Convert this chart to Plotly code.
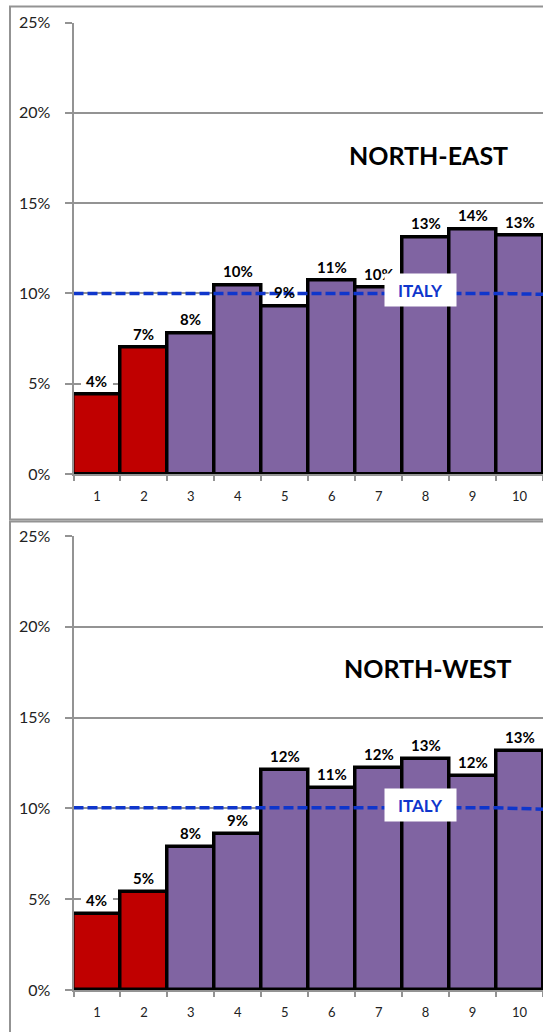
import plotly.graph_objects as go

W, H = 543, 1032

# Deciles 1..10
deciles = [1, 2, 3, 4, 5, 6, 7, 8, 9, 10]
decile_labels = ["1", "2", "3", "4", "5", "6", "7", "8", "9", "10"]

# Share per decile, by area
north_east = [0.044, 0.070, 0.078, 0.1045, 0.093, 0.107, 0.103, 0.131, 0.1354, 0.132]
north_west = [0.042, 0.054, 0.079, 0.086, 0.121, 0.111, 0.122, 0.127, 0.118, 0.1315]

# National reference level, sampled at the decile boundaries 0.5 .. 10.5
italy_x = [0.5, 1.5, 2.5, 3.5, 4.5, 5.5, 6.5, 7.5, 8.5, 9.5, 10.5]
italy_ne = [0.100, 0.100, 0.100, 0.100, 0.100, 0.100, 0.100, 0.100, 0.100, 0.100, 0.0995]
italy_nw = [0.1003, 0.1003, 0.1003, 0.1003, 0.1003, 0.1003, 0.1003, 0.1003, 0.1003, 0.1003, 0.0996]

# Which deciles are highlighted in red
highlight = [True, True, False, False, False, False, False, False, False, False]

RED = "#C00000"
PURPLE = "#8064A2"
BLUE = "#0F36CC"
GRID = "#939393"
FONT = "Lato"

panels = [
    dict(name="NORTH-EAST", values=north_east, italy=italy_ne, xa="x", ya="y",
         top=22.5, bottom=474.0, frame=(6.5, 519.5), title_y=155, italy_y=290),
    dict(name="NORTH-WEST", values=north_west, italy=italy_nw, xa="x2", ya="y2",
         top=536.0, bottom=990.0, frame=(521.5, 1100), title_y=668, italy_y=805),
]

fig = go.Figure()
shapes = []
annotations = []
colors = [RED if h else PURPLE for h in highlight]

def py(p):
    return 1 - p / H

for i, p in enumerate(panels):
    fig.add_trace(go.Bar(
        x=deciles, y=p["values"], xaxis=p["xa"], yaxis=p["ya"],
        width=1.0, marker=dict(color=colors, line=dict(color="black", width=3.5)),
        showlegend=False, hoverinfo="skip",
    ))
    fig.add_trace(go.Scatter(
        x=italy_x, y=p["italy"], xaxis=p["xa"], yaxis=p["ya"], mode="lines",
        line=dict(color=BLUE, width=3.5, dash="10px,4px"),
        showlegend=False, hoverinfo="skip",
    ))

    sfx = "" if i == 0 else "2"
    ax = dict(
        domain=[73.5 / W, 1.0], range=[0.5, 10.5], automargin=False,
        tickmode="array", tickvals=deciles, ticktext=decile_labels, ticks="",
        ticklabelstandoff=9,
        tickfont=dict(family=FONT, size=13, color="#222"),
        showgrid=False, zeroline=False, showline=True, linecolor=GRID, linewidth=2,
        minor=dict(tick0=0.5, dtick=1, ticks="outside", ticklen=5, tickcolor=GRID,
                   tickwidth=1.5, showgrid=False),
        anchor="y" + sfx, fixedrange=True,
    )
    ay = dict(
        domain=[py(p["bottom"]), py(p["top"])], range=[0, 0.25], automargin=False,
        tickmode="linear", tick0=0, dtick=0.05, tickformat=".0%",
        ticks="outside", ticklen=7, tickcolor=GRID, tickwidth=1.5,
        ticklabelstandoff=11,
        tickfont=dict(family=FONT, size=16, color="#222"),
        showgrid=True, gridcolor=GRID, gridwidth=1.5, zeroline=False,
        showline=True, linecolor=GRID, linewidth=2,
        anchor="x" + sfx, fixedrange=True,
    )
    fig.update_layout(**{"xaxis" + sfx: ax, "yaxis" + sfx: ay})

    # panel frame
    shapes.append(dict(type="rect", xref="paper", yref="paper",
                       x0=10 / W, x1=1.05, y0=py(p["frame"][1]), y1=py(p["frame"][0]),
                       line=dict(color=GRID, width=2), fillcolor="rgba(0,0,0,0)"))

    # value labels with a white backing that masks the gridlines only
    for d, v in zip(deciles, p["values"]):
        txt = f"{v:.0%}"
        half = 19 if len(txt) > 2 else 16
        shapes.append(dict(type="rect", layer="between", xref=p["xa"], yref=p["ya"],
                           xsizemode="pixel", ysizemode="pixel", xanchor=d, yanchor=v,
                           x0=-half, x1=half, y0=6, y1=23,
                           line=dict(width=0), fillcolor="white"))
        annotations.append(dict(x=d, y=v, xref=p["xa"], yref=p["ya"], text=f"<b>{txt}</b>",
                                showarrow=False, xanchor="center", yanchor="middle", yshift=14,
                                font=dict(family=FONT, size=15, color="black")))

    annotations.append(dict(x=428 / W, y=py(p["title_y"]), xref="paper", yref="paper",
                            text=f"<b>{p['name']}</b>", showarrow=False,
                            xanchor="center", yanchor="middle",
                            font=dict(family=FONT, size=25, color="black")))
    annotations.append(dict(x=420 / W, y=py(p["italy_y"]), xref="paper", yref="paper",
                            text="<b>ITALY</b>", showarrow=False, bgcolor="white",
                            xanchor="center", yanchor="middle", width=69, height=30,
                            font=dict(family=FONT, size=17, color=BLUE)))

fig.update_layout(
    width=W, height=H, margin=dict(l=0, r=0, t=0, b=0, pad=0, autoexpand=False),
    paper_bgcolor="white", plot_bgcolor="white",
    bargap=0, shapes=shapes, annotations=annotations, showlegend=False,
)

fig.write_html("out.html", config={"displayModeBar": False})
